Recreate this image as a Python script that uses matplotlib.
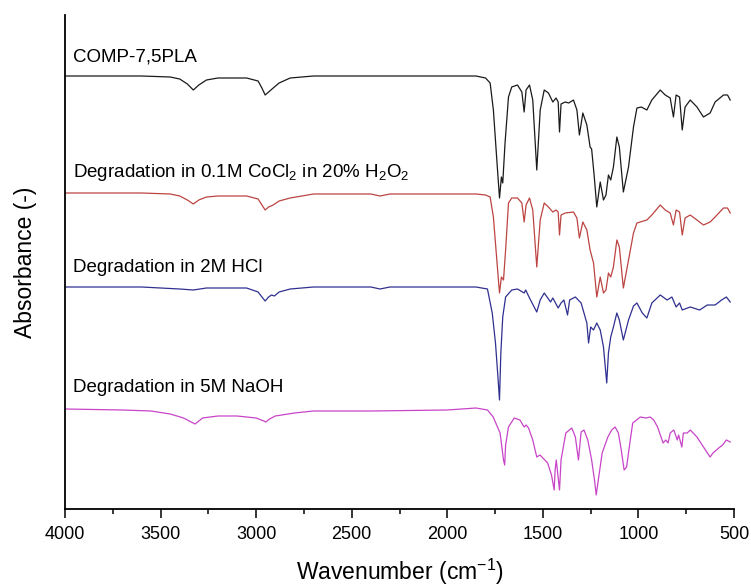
import matplotlib
matplotlib.use("Agg")
import matplotlib.pyplot as plt
from matplotlib.ticker import MultipleLocator

plt.rcParams["font.family"] = ["Liberation Sans", "DejaVu Sans"]
plt.rcParams["mathtext.fontset"] = "custom"
plt.rcParams["mathtext.rm"] = "Liberation Sans"

# wavenumbers (cm-1) and stacked absorbance (arbitrary units, already offset)
comp_wn = [4000, 3600, 3450, 3400, 3360, 3329, 3300, 3260, 3200, 3050, 2990, 2970, 2953, 2935, 2911,
           2880, 2822, 2700, 2300, 2000, 1850, 1800, 1776, 1759, 1741, 1727, 1717, 1710, 1698, 1680,
           1663, 1633, 1610, 1598, 1588, 1570, 1553, 1532, 1514, 1493, 1471, 1448, 1431, 1420, 1413,
           1405, 1383, 1365, 1340, 1322, 1309, 1291, 1270, 1253, 1245, 1232, 1218, 1200, 1183, 1170,
           1157, 1145, 1131, 1113, 1100, 1079, 1052, 1026, 1008, 985, 956, 930, 886, 860, 834,
           817, 803, 785, 771, 756, 729, 694, 660, 625, 599, 555, 534, 520]
comp_abs = [433, 433, 432, 430, 425, 419, 424, 429, 431, 431, 428, 421, 414, 417, 421,
            426, 431, 433, 433, 433, 433, 431, 426, 399, 349, 311, 332, 326, 366, 412,
            422, 424, 417, 397, 419, 424, 409, 339, 399, 419, 416, 407, 411, 407, 377,
            405, 407, 406, 409, 399, 374, 396, 384, 362, 360, 334, 302, 327, 309, 314,
            334, 329, 342, 372, 362, 317, 342, 382, 401, 402, 399, 409, 419, 414, 411,
            392, 414, 412, 379, 402, 409, 402, 392, 396, 407, 414, 414, 409]

cocl_wn = [4000, 3600, 3450, 3400, 3360, 3329, 3300, 3260, 3200, 3050, 2990, 2970, 2953, 2935, 2911,
           2880, 2822, 2700, 2400, 2352, 2300, 2000, 1850, 1800, 1776, 1759, 1741, 1727, 1717, 1706,
           1695, 1680, 1663, 1633, 1610, 1598, 1588, 1570, 1553, 1532, 1514, 1493, 1471, 1448, 1431,
           1420, 1413, 1405, 1383, 1340, 1322, 1309, 1291, 1270, 1253, 1235, 1218, 1200, 1183, 1170,
           1157, 1145, 1131, 1113, 1100, 1079, 1052, 1026, 1008, 956, 930, 886, 860, 834, 817,
           803, 785, 771, 756, 729, 694, 660, 625, 599, 555, 534, 520]
cocl_abs = [316, 316, 315, 313, 309, 305, 309, 312, 313, 313, 310, 304, 299, 302, 304,
            308, 311, 315, 315, 313, 315, 315, 315, 314, 312, 292, 249, 216, 232, 229,
            259, 306, 311, 311, 306, 287, 304, 311, 299, 242, 289, 306, 302, 297, 299,
            297, 274, 294, 296, 297, 291, 271, 287, 279, 259, 246, 212, 232, 216, 219,
            236, 232, 242, 269, 262, 221, 249, 276, 286, 289, 294, 304, 299, 296, 284,
            299, 297, 274, 291, 294, 289, 284, 287, 292, 301, 301, 296]

hcl_wn = [4000, 3600, 3400, 3329, 3260, 3050, 2990, 2970, 2953, 2935, 2920, 2905, 2880, 2822, 2700,
          2400, 2352, 2300, 2000, 1850, 1790, 1765, 1748, 1734, 1727, 1720, 1710, 1695, 1663, 1633,
          1598, 1590, 1570, 1532, 1514, 1493, 1460, 1448, 1420, 1405, 1390, 1371, 1360, 1330, 1300,
          1270, 1261, 1250, 1235, 1218, 1200, 1183, 1166, 1157, 1145, 1131, 1113, 1100, 1079, 1052,
          1026, 1008, 980, 956, 930, 886, 850, 825, 803, 785, 771, 729, 680, 640, 599,
          565, 540, 520]
hcl_abs = [222, 222, 220, 219, 221, 221, 217, 212, 208, 212, 214, 213, 217, 220, 222,
           222, 220, 222, 222, 222, 220, 196, 166, 129, 109, 156, 192, 212, 219, 220,
           216, 219, 211, 197, 209, 216, 207, 211, 201, 206, 209, 194, 209, 212, 206,
           186, 166, 182, 179, 186, 179, 162, 126, 156, 172, 182, 196, 189, 169, 189,
           203, 206, 196, 191, 206, 214, 209, 212, 202, 206, 199, 202, 199, 204, 204,
           209, 212, 207]

naoh_wn = [4000, 3700, 3550, 3450, 3380, 3320, 3280, 3200, 3100, 3000, 2960, 2950, 2930, 2900, 2800,
           2700, 2400, 2000, 1850, 1790, 1760, 1724, 1706, 1700, 1695, 1680, 1650, 1620, 1598, 1588,
           1575, 1553, 1532, 1515, 1500, 1475, 1455, 1441, 1436, 1430, 1413, 1405, 1380, 1349, 1330,
           1314, 1300, 1285, 1265, 1245, 1230, 1221, 1210, 1190, 1160, 1140, 1122, 1105, 1090, 1075,
           1062, 1045, 1030, 1010, 990, 960, 939, 920, 900, 871, 857, 845, 834, 815, 797,
           790, 773, 765, 745, 729, 694, 660, 625, 610, 580, 560, 540, 520]
naoh_abs = [100, 99, 98, 95, 91, 85, 91, 93, 93, 91, 88, 87, 90, 93, 96,
            98, 98, 99, 101, 99, 92, 76, 49, 44, 64, 82, 91, 89, 82, 84,
            81, 69, 52, 54, 51, 46, 34, 19, 39, 49, 19, 49, 76, 81, 72,
            49, 77, 79, 69, 49, 29, 14, 29, 56, 72, 79, 82, 76, 59, 39,
            42, 66, 86, 89, 92, 91, 92, 89, 82, 66, 69, 66, 76, 79, 69,
            74, 62, 76, 76, 79, 72, 62, 52, 56, 61, 64, 69, 67]

labels = ["COMP-7,5PLA",
          r"Degradation in 0.1M CoCl$_2$ in 20% H$_2$O$_2$",
          "Degradation in 2M HCl",
          "Degradation in 5M NaOH"]
colors = ["#1a1a1a", "#bc4442", "#303090", "#c845c8"]
label_pos = [452, 337, 242, 122]

fig = plt.figure(figsize=(7.51, 5.86), dpi=100)
ax = fig.add_axes([0.0866, 0.1314, 0.8908, 0.843])

series = [(comp_wn, comp_abs), (cocl_wn, cocl_abs), (hcl_wn, hcl_abs), (naoh_wn, naoh_abs)]
for (wn, a), c, lab, ly in zip(series, colors, labels, label_pos):
    ax.plot(wn, a, color=c, lw=0.9)
    ax.text(3960, ly, lab, fontsize=13.5, ha="left", va="center")

ax.set_xlim(4000, 500)
ax.set_ylim(0, 494)
ax.xaxis.set_major_locator(MultipleLocator(500))
ax.xaxis.set_minor_locator(MultipleLocator(250))
ax.set_yticks([])
ax.tick_params(axis="x", which="major", direction="out", length=6.5, width=1.1, labelsize=13, pad=6)
ax.tick_params(axis="x", which="minor", direction="out", length=3.5, width=1.1)
for s in ["top", "right"]:
    ax.spines[s].set_visible(False)
for s in ["left", "bottom"]:
    ax.spines[s].set_linewidth(1.3)

ax.set_xlabel(r"Wavenumber (cm$^{-1}$)", fontsize=16.5, labelpad=10)
ax.set_ylabel("Absorbance (-)", fontsize=16.5, labelpad=20)

fig.savefig("out.png", dpi=100)
